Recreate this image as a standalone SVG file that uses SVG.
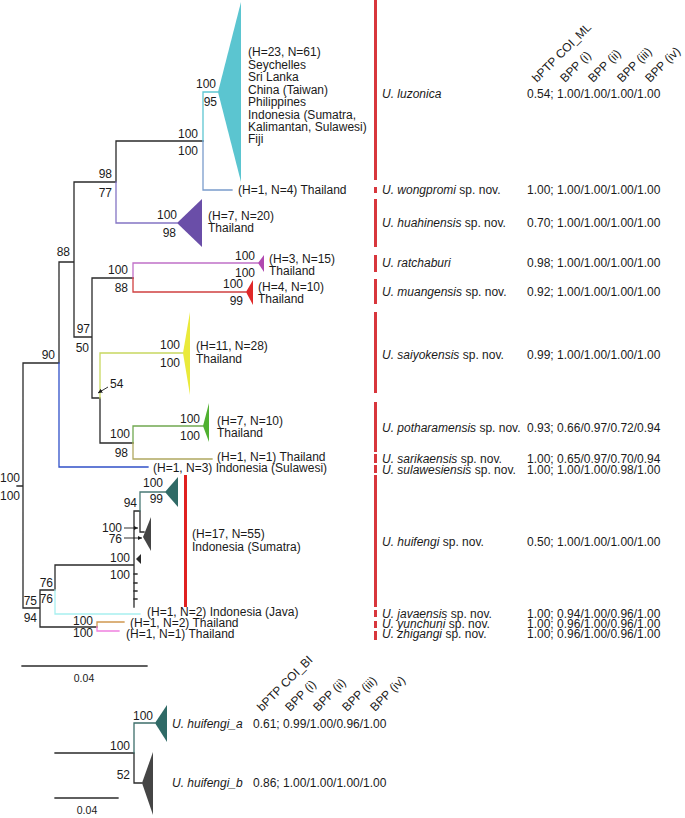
<svg xmlns="http://www.w3.org/2000/svg" width="685" height="818" viewBox="0 0 685 818">
<defs>
<style>
.t{font-family:"Liberation Sans",Arial,sans-serif;font-size:12px;fill:#1a1a1a}
.e{text-anchor:end}
.m{text-anchor:middle}
.i{font-style:italic}
.s{font-size:10.5px}
.b{fill:none;stroke-width:1.3;stroke-linecap:square}
.k{stroke:#2a2a2a}
.bar{fill:#d8363c}
.arr{stroke:#1a1a1a;stroke-width:0.9;fill:none}
</style>
<marker id="ah" viewBox="0 0 6 6" refX="6" refY="3" markerWidth="5" markerHeight="5" orient="auto">
<path d="M0,0 L6,3 L0,6 z" fill="#1a1a1a"/>
</marker>
</defs>
<rect width="685" height="818" fill="#ffffff"/>

<g id="connectors">
<path class="b k" d="M17 486H23M23 363V608M23 363H59M59 262V363M59 262H74M74 182V337M74 182H116M116 141V182M116 141H203M74 337H92M92 278V398M92 278H133M92 398H100M100 398V443M100 443H133M23 608H40M40 590V627M40 590H55M55 565V590M55 565H134M134 511V607M134 511H140M140 511V532H144M40 627H97"/>
<path class="b k" d="M134 574H137M134 583H137M134 591H137M134 599H137"/>
<path class="b" stroke="#5ec6d2" d="M203 92V141M203 92H218"/>
<path class="b" stroke="#7a9ccc" d="M203 141V190H232"/>
<path class="b" stroke="#8474c4" d="M116 182V223H177"/>
<path class="b" stroke="#c070c8" d="M133 263V278M133 263H258"/>
<path class="b" stroke="#d04040" d="M133 278V292H246"/>
<path class="b" stroke="#c8d860" d="M100 353V398M100 353H183"/>
<path class="b" stroke="#70a850" d="M133 426V443M133 426H203"/>
<path class="b" stroke="#b0a860" d="M133 443V459H212"/>
<path class="b" stroke="#3050c8" d="M59 363V467H148"/>
<path class="b" stroke="#4a7a76" d="M140 492V511M140 492H165"/>
<path class="b" stroke="#a8f0f0" d="M55 590V614H140"/>
<path class="b" stroke="#d09850" d="M97 622V627M97 622H124"/>
<path class="b" stroke="#f080e0" d="M97 627V631H119"/>
<path class="arr" d="M108 387L98 393" marker-end="url(#ah)"/>
<path class="arr" d="M124 528H138" marker-end="url(#ah)"/>
<path class="arr" d="M124 538H142" marker-end="url(#ah)"/>
<path class="b k" d="M55 753H134M134 753V783H142"/>
<path class="b" stroke="#3d6e6a" d="M134 723V753M134 723H155"/>
</g>

<g id="supports">
<text class="t e" x="216" y="88">100</text><text class="t e" x="217" y="106">95</text>
<text class="t e" x="198" y="138">100</text><text class="t e" x="198" y="155">100</text>
<text class="t e" x="112" y="178">98</text><text class="t e" x="112" y="197">77</text>
<text class="t e" x="177" y="219">100</text><text class="t e" x="176" y="237">98</text>
<text class="t e" x="70" y="256">88</text>
<text class="t e" x="128" y="274">100</text><text class="t e" x="128" y="292">88</text>
<text class="t e" x="255" y="260">100</text><text class="t e" x="255" y="277">100</text>
<text class="t e" x="243" y="288">100</text><text class="t e" x="243" y="305">99</text>
<text class="t e" x="90" y="333">97</text><text class="t e" x="89" y="352">50</text>
<text class="t e" x="55" y="359">90</text>
<text class="t e" x="180" y="349">100</text><text class="t e" x="180" y="367">100</text>
<text class="t" x="110" y="388">54</text>
<text class="t e" x="200" y="423">100</text><text class="t e" x="200" y="440">100</text>
<text class="t e" x="130" y="438">100</text><text class="t e" x="128" y="457">98</text>
<text class="t e" x="20" y="482">100</text><text class="t e" x="20" y="500">100</text>
<text class="t e" x="163" y="487">100</text><text class="t e" x="163" y="503">99</text>
<text class="t e" x="137" y="507">94</text>
<text class="t e" x="122" y="532">100</text><text class="t e" x="122" y="543">76</text>
<text class="t e" x="130" y="562">100</text><text class="t e" x="130" y="579">100</text>
<text class="t e" x="53" y="587">76</text><text class="t e" x="53" y="603">76</text>
<text class="t e" x="37" y="605">75</text><text class="t e" x="37" y="622">94</text>
<text class="t e" x="93" y="625">100</text><text class="t e" x="93" y="637">100</text>
</g>

<g id="scale-ml">
<path class="b k" d="M22 666H147"/>
<text class="t s m" x="84" y="682">0.04</text>
</g>

<g id="header-ml">
<text class="t" transform="translate(537 83) rotate(-45)">bPTP COI_ML</text>
<text class="t" transform="translate(565 83) rotate(-45)">BPP (i)</text>
<text class="t" transform="translate(593 83) rotate(-45)">BPP (ii)</text>
<text class="t" transform="translate(622 83) rotate(-45)">BPP (iii)</text>
<text class="t" transform="translate(650 83) rotate(-45)">BPP (iv)</text>
</g>

<g id="luzonica">
<polygon points="218,92 241,2 241,182" fill="#5bc5d0"/>
<text class="t" x="248" y="56">(H=23, N=61)</text>
<text class="t" x="248" y="68.5">Seychelles</text>
<text class="t" x="248" y="81">Sri Lanka</text>
<text class="t" x="248" y="93.5">China (Taiwan)</text>
<text class="t" x="248" y="106">Philippines</text>
<text class="t" x="248" y="118.5">Indonesia (Sumatra,</text>
<text class="t" x="248" y="131">Kalimantan, Sulawesi)</text>
<text class="t" x="248" y="143">Fiji</text>
<rect class="bar" x="374" y="0" width="3" height="180"/>
<text class="t" x="382" y="98"><tspan class="i">U. luzonica</tspan></text>
<text class="t" x="527" y="98">0.54; 1.00/1.00/1.00/1.00</text>
</g>

<g id="wongpromi">
<text class="t" x="238" y="194">(H=1, N=4) Thailand</text>
<rect class="bar" x="374" y="187" width="3" height="6"/>
<text class="t" x="382" y="194"><tspan class="i">U. wongpromi</tspan> sp. nov.</text>
<text class="t" x="527" y="194">1.00; 1.00/1.00/1.00/1.00</text>
</g>

<g id="huahinensis">
<polygon points="177,223 202,199 202,247" fill="#6a4ea8"/>
<text class="t" x="208" y="220">(H=7, N=20)</text>
<text class="t" x="208" y="232">Thailand</text>
<rect class="bar" x="374" y="199" width="3" height="48"/>
<text class="t" x="382" y="227"><tspan class="i">U. huahinensis</tspan> sp. nov.</text>
<text class="t" x="527" y="227">0.70; 1.00/1.00/1.00/1.00</text>
</g>

<g id="ratchaburi">
<polygon points="258,263 264,255 264,272" fill="#b048b0"/>
<text class="t" x="269" y="263">(H=3, N=15)</text>
<text class="t" x="269" y="275">Thailand</text>
<rect class="bar" x="374" y="255" width="3" height="17"/>
<text class="t" x="382" y="267"><tspan class="i">U. ratchaburi</tspan></text>
<text class="t" x="527" y="267">0.98; 1.00/1.00/1.00/1.00</text>
</g>

<g id="muangensis">
<polygon points="246,292 253,280 253,305" fill="#e02828"/>
<text class="t" x="258" y="291">(H=4, N=10)</text>
<text class="t" x="258" y="303">Thailand</text>
<rect class="bar" x="374" y="279" width="3" height="25"/>
<text class="t" x="382" y="296"><tspan class="i">U. muangensis</tspan> sp. nov.</text>
<text class="t" x="527" y="296">0.92; 1.00/1.00/1.00/1.00</text>
</g>

<g id="saiyokensis">
<polygon points="183,353 190,312 190,395" fill="#eaea3a"/>
<text class="t" x="196" y="350">(H=11, N=28)</text>
<text class="t" x="196" y="363">Thailand</text>
<rect class="bar" x="374" y="312" width="3" height="81"/>
<text class="t" x="382" y="359"><tspan class="i">U. saiyokensis</tspan> sp. nov.</text>
<text class="t" x="527" y="359">0.99; 1.00/1.00/1.00/1.00</text>
</g>

<g id="potharamensis">
<polygon points="203,426 209,403 209,442" fill="#50b030"/>
<text class="t" x="217" y="425">(H=7, N=10)</text>
<text class="t" x="217" y="437">Thailand</text>
<rect class="bar" x="374" y="402" width="3" height="50"/>
<text class="t" x="382" y="432"><tspan class="i">U. potharamensis</tspan> sp. nov.</text>
<text class="t" x="527" y="432">0.93; 0.66/0.97/0.72/0.94</text>
</g>

<g id="sarikaensis">
<text class="t" x="217" y="461">(H=1, N=1) Thailand</text>
<rect class="bar" x="374" y="454" width="3" height="9"/>
<text class="t" x="382" y="463"><tspan class="i">U. sarikaensis</tspan> sp. nov.</text>
<text class="t" x="527" y="463">1.00; 0.65/0.97/0.70/0.94</text>
</g>

<g id="sulawesiensis">
<text class="t" x="153" y="472">(H=1, N=3) Indonesia (Sulawesi)</text>
<rect class="bar" x="374" y="465" width="3" height="8"/>
<text class="t" x="382" y="474"><tspan class="i">U. sulawesiensis</tspan> sp. nov.</text>
<text class="t" x="527" y="474">1.00; 1.00/1.00/0.98/1.00</text>
</g>

<g id="huifengi">
<polygon points="165,492 178,477 178,507" fill="#2f6a66"/>
<polygon points="143,537 151,517 151,551" fill="#454545"/>
<polygon points="136,559 141,554 141,564" fill="#2a2a2a"/>
<rect x="184" y="475" width="3" height="132" fill="#e02020"/>
<text class="t" x="192" y="538">(H=17, N=55)</text>
<text class="t" x="192" y="551">Indonesia (Sumatra)</text>
<rect class="bar" x="374" y="475" width="3" height="132"/>
<text class="t" x="382" y="546"><tspan class="i">U. huifengi</tspan> sp. nov.</text>
<text class="t" x="527" y="546">0.50; 1.00/1.00/1.00/1.00</text>
</g>

<g id="javaensis">
<text class="t" x="147" y="616">(H=1, N=2) Indonesia (Java)</text>
<rect class="bar" x="374" y="610" width="3" height="7"/>
<text class="t" x="382" y="618"><tspan class="i">U. javaensis</tspan> sp. nov.</text>
<text class="t" x="527" y="618">1.00; 0.94/1.00/0.96/1.00</text>
</g>

<g id="yunchuni">
<text class="t" x="130" y="627">(H=1, N=2) Thailand</text>
<rect class="bar" x="374" y="621" width="3" height="7"/>
<text class="t" x="382" y="628"><tspan class="i">U. yunchuni</tspan> sp. nov.</text>
<text class="t" x="527" y="628">1.00; 0.96/1.00/0.96/1.00</text>
</g>

<g id="zhigangi">
<text class="t" x="126" y="638">(H=1, N=1) Thailand</text>
<rect class="bar" x="374" y="631" width="3" height="9"/>
<text class="t" x="382" y="638"><tspan class="i">U. zhigangi</tspan> sp. nov.</text>
<text class="t" x="527" y="638">1.00; 0.96/1.00/0.96/1.00</text>
</g>

<g id="header-bi">
<text class="t" transform="translate(262 712) rotate(-45)">bPTP COI_BI</text>
<text class="t" transform="translate(290 712) rotate(-45)">BPP (i)</text>
<text class="t" transform="translate(318 712) rotate(-45)">BPP (ii)</text>
<text class="t" transform="translate(347 712) rotate(-45)">BPP (iii)</text>
<text class="t" transform="translate(375 712) rotate(-45)">BPP (iv)</text>
</g>

<g id="bi-supports">
<text class="t e" x="153" y="720">100</text>
<text class="t e" x="130" y="750">100</text>
<text class="t e" x="130" y="779">52</text>
</g>

<g id="huifengi_a">
<polygon points="155,723 167,705 167,742" fill="#2f6a66"/>
<text class="t i" x="172" y="728">U. huifengi_a</text>
<text class="t" x="253" y="728">0.61; 0.99/1.00/0.96/1.00</text>
</g>

<g id="huifengi_b">
<polygon points="142,783 153,752 153,815" fill="#454545"/>
<text class="t i" x="172" y="787">U. huifengi_b</text>
<text class="t" x="253" y="787">0.86; 1.00/1.00/1.00/1.00</text>
</g>

<g id="scale-bi">
<path class="b k" d="M55 798H118"/>
<text class="t s m" x="87" y="814">0.04</text>
</g>
</svg>
